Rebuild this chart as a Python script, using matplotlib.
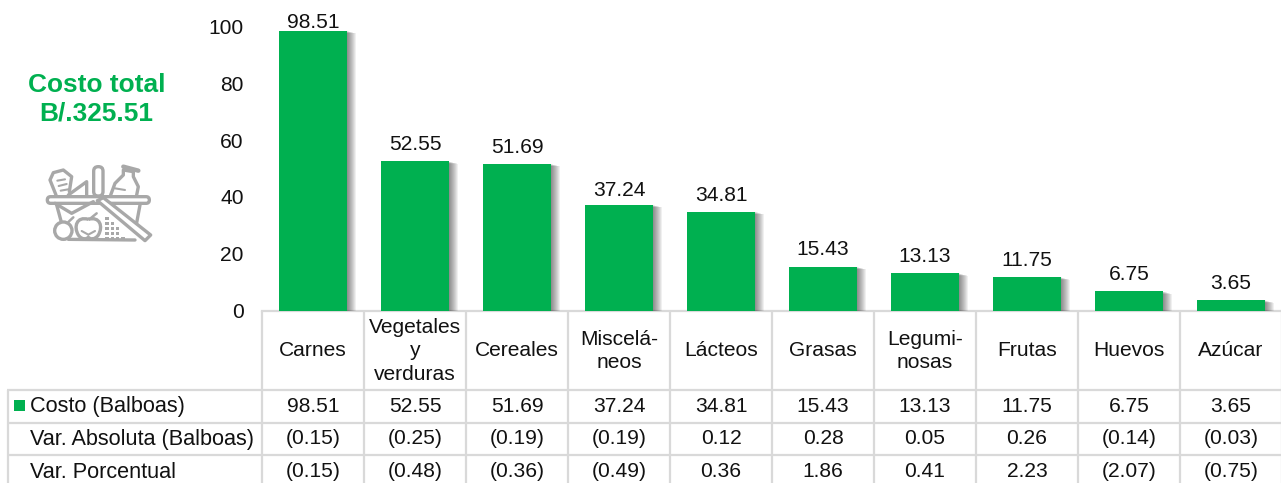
import numpy as np
import matplotlib
matplotlib.use('Agg')
import matplotlib.pyplot as plt
import matplotlib.patheffects as pe
from matplotlib.patches import Circle, FancyBboxPatch, PathPatch, Polygon, Rectangle
from matplotlib.path import Path

plt.rcParams['font.family'] = ['Liberation Sans', 'DejaVu Sans']

categories = ['Carnes', 'Vegetales\ny\nverduras', 'Cereales', 'Miscelá-\nneos', 'Lácteos',
              'Grasas', 'Legumi-\nnosas', 'Frutas', 'Huevos', 'Azúcar']
costo = [98.51, 52.55, 51.69, 37.24, 34.81, 15.43, 13.13, 11.75, 6.75, 3.65]
var_abs = ['(0.15)', '(0.25)', '(0.19)', '(0.19)', '0.12', '0.28', '0.05', '0.26', '(0.14)', '(0.03)']
var_pct = ['(0.15)', '(0.48)', '(0.36)', '(0.49)', '0.36', '1.86', '0.41', '2.23', '(2.07)', '(0.75)']
row_labels = ['Costo (Balboas)', 'Var. Absoluta (Balboas)', 'Var. Porcentual']
y_ticks = [0, 20, 40, 60, 80, 100]

W, H = 1281, 483
GREEN = '#00b050'
GRID = '#d9d9d9'
ICON = '#a8a8a8'
TXT = '#111111'
FS = 15.1

fig = plt.figure(figsize=(W / 100, H / 100), dpi=100, facecolor='white')

# pixel overlay for table and icon
px = fig.add_axes([0, 0, 1, 1], zorder=0)
px.set_xlim(0, W)
px.set_ylim(H, 0)
px.axis('off')

# bars, soft shadow built from stacked offsets
ax = fig.add_axes([262 / W, 1 - 310.5 / H, 1020 / W, (310.5 - 26.5) / H], zorder=2)
ax.patch.set_alpha(0)
x = np.arange(len(costo))
bars = ax.bar(x, costo, width=0.667, color=GREEN, zorder=3)
shadow = [pe.SimplePatchShadow(offset=(d * 0.72, -d * 0.2), shadow_rgbFace='#000000', alpha=0.06)
          for d in range(9, 0, -1)]
for bar in bars:
    bar.set_path_effects(shadow + [pe.Normal()])

# the tallest label sits against the top of the chart, the rest float over their bars
label_nudge = [-1, 5.5, 5, 3.5, 4.5, 5.5, 5.5, 5, 5, 5]
for xi, v, dy in zip(x, costo, label_nudge):
    ax.annotate(f'{v:.2f}', (xi, v), xytext=(0, dy), textcoords='offset points', ha='center',
                va='bottom', fontsize=FS, color=TXT, annotation_clip=False, zorder=1)
ax.set_xlim(-0.5, 9.5)
ax.set_ylim(0, 100)
ax.set_yticks(y_ticks)
ax.set_xticks([])
ax.tick_params(axis='y', length=0, labelsize=FS, labelcolor=TXT, pad=13.3)
for s in ['top', 'right', 'left']:
    ax.spines[s].set_visible(False)
ax.spines['bottom'].set_color(GRID)
ax.spines['bottom'].set_linewidth(1.6)

# table grid
step = 102
col_x = [262 + step * i for i in range(len(costo) + 1)]
row_y = [310.5, 390, 422.5, 455]
for cx in col_x:
    px.plot([cx, cx], [row_y[0], H], color=GRID, lw=1.6, solid_capstyle='butt')
px.plot([7.5, 7.5], [row_y[1], H], color=GRID, lw=1.6, solid_capstyle='butt')
for ry in row_y[1:]:
    px.plot([7, W], [ry, ry], color=GRID, lw=1.6, solid_capstyle='butt')

# table text
row_mid = [406, 438.5, 471.5]
for i, cat in enumerate(categories):
    cx = col_x[i] + step / 2
    px.text(cx, 351, cat, ha='center', va='center', fontsize=FS, color=TXT, linespacing=1.32)
    px.text(cx, row_mid[0], f'{costo[i]:.2f}', ha='center', va='center', fontsize=FS, color=TXT)
    px.text(cx, row_mid[1], var_abs[i], ha='center', va='center', fontsize=FS, color=TXT)
    px.text(cx, row_mid[2], var_pct[i], ha='center', va='center', fontsize=FS, color=TXT)
for ry, label in zip(row_mid, row_labels):
    px.text(30, ry + 0.5, label, ha='left', va='center', fontsize=15.6, color=TXT)
px.add_patch(Rectangle((14, 400), 11, 11, color=GREEN, lw=0))

# title
px.text(96.5, 99, 'Costo total\nB/.325.51', ha='center', va='center', fontsize=18.9,
        fontweight='bold', color=GREEN, linespacing=1.25)


# basket icon, coordinates from a 3x crop of the icon area
def ic(a, b):
    return 40 + a / 3, 160 + b / 3


LW = 2.4


def iline(pts, lw=LW, z=2):
    xs, ys = zip(*[ic(*p) for p in pts])
    px.plot(xs, ys, color=ICON, lw=lw, solid_capstyle='round', solid_joinstyle='round', zorder=z)


iline([(48, 105), (30, 60), (40, 38), (70, 30), (95, 50), (88, 95)])
iline([(52, 62), (75, 58)], 1.5)
iline([(56, 78), (80, 72)], 1.5)
iline([(62, 92), (85, 88)], 1.5)
iline([(85, 105), (140, 65), (140, 105)])
px.add_patch(FancyBboxPatch(ic(161, 20), 28 / 3, 88 / 3, boxstyle='round,pad=0,rounding_size=4.5',
                            fc='none', ec=ICON, lw=LW))
iline([(212, 105), (225, 70), (250, 45), (250, 30), (280, 35), (280, 50), (295, 80), (290, 105)])
iline([(250, 20), (295, 32)], 3.2)
iline([(225, 85), (255, 90)], 1.5)
px.add_patch(FancyBboxPatch(ic(22, 110), 306 / 3, 20 / 3, boxstyle='round,pad=0,rounding_size=3.3',
                            fc='white', ec=ICON, lw=LW, zorder=2.5))
iline([(45, 130), (95, 160), (160, 125)], z=2.6)
iline([(50, 135), (65, 190)])
iline([(300, 135), (285, 215)])
iline([(85, 238), (285, 240)])
px.add_patch(Polygon([ic(172, 122), ic(190, 113), ic(332, 225), ic(315, 242)], closed=True, fc='white',
                     ec=ICON, lw=LW, joinstyle='round', zorder=3))
px.add_patch(Circle(ic(70, 212), 26 / 3, fc='white', ec=ICON, lw=LW, zorder=3))
iline([(85, 186), (100, 172)], 1.8, z=3)
apple = [(145, 178), (110, 168), (100, 200), (115, 225), (125, 240), (140, 238), (145, 232),
         (150, 238), (165, 240), (175, 225), (190, 200), (180, 168), (145, 178)]
apple_codes = [Path.MOVETO] + [Path.CURVE4] * 12
px.add_patch(PathPatch(Path([ic(*p) for p in apple], apple_codes), fc='white', ec=ICON, lw=LW, zorder=3.1))
iline([(148, 178), (170, 160)], 1.8, z=3.2)
iline([(125, 213), (145, 224), (165, 213)], 1.5, z=3.2)
for gx in range(196, 262, 16):
    for gy in range(172, 236, 15):
        if gx - 172 < (gy - 122) * 0.85 - 10:
            px.add_patch(Rectangle(ic(gx, gy), 3.4, 2.6, color=ICON, lw=0))

fig.savefig('out.png', dpi=100, facecolor='white')
